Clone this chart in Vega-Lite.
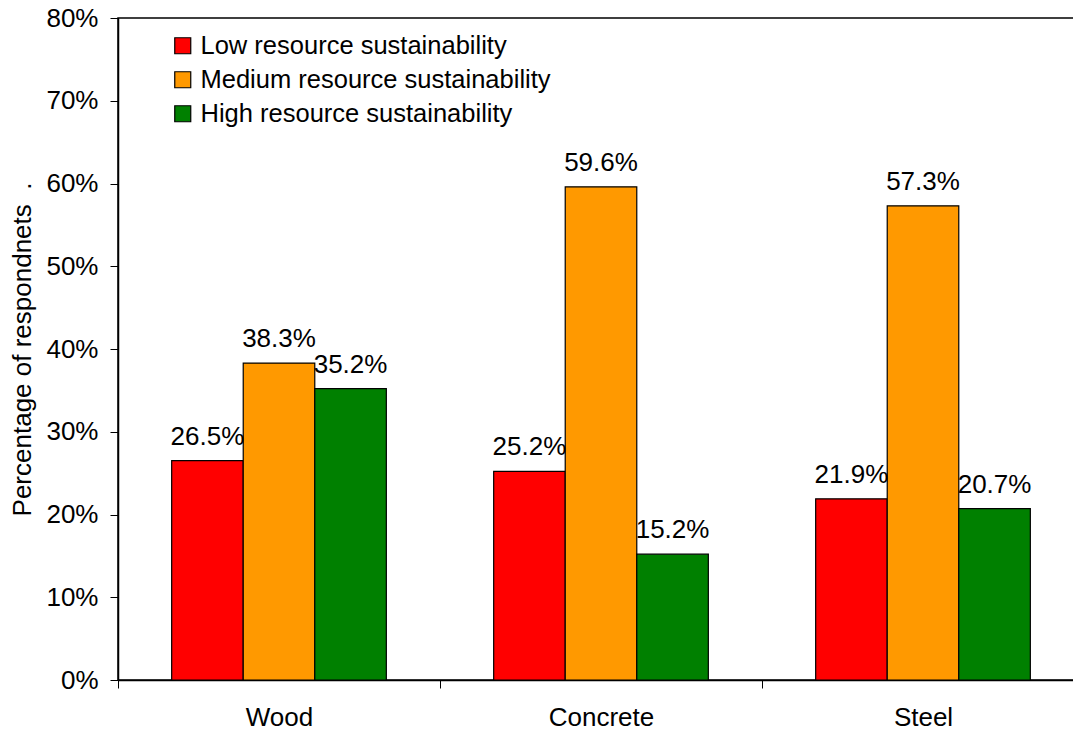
{
  "$schema": "https://vega.github.io/schema/vega-lite/v6.json",
  "autosize": "none",
  "padding": {"left": 118, "top": 18, "right": 0, "bottom": 52},
  "width": 966,
  "height": 662,
  "background": "white",
  "config": {
    "font": "Liberation Sans",
    "view": {"stroke": "#000", "strokeWidth": 1.5}
  },
  "data": {
    "values": [
      {"material": "Wood", "level": "Low resource sustainability", "value": 0.265},
      {"material": "Wood", "level": "Medium resource sustainability", "value": 0.383},
      {"material": "Wood", "level": "High resource sustainability", "value": 0.352},
      {"material": "Concrete", "level": "Low resource sustainability", "value": 0.252},
      {"material": "Concrete", "level": "Medium resource sustainability", "value": 0.596},
      {"material": "Concrete", "level": "High resource sustainability", "value": 0.152},
      {"material": "Steel", "level": "Low resource sustainability", "value": 0.219},
      {"material": "Steel", "level": "Medium resource sustainability", "value": 0.573},
      {"material": "Steel", "level": "High resource sustainability", "value": 0.207}
    ]
  },
  "encoding": {
    "x": {
      "field": "material", "type": "nominal", "sort": ["Wood", "Concrete", "Steel"],
      "scale": {"paddingInner": 0, "paddingOuter": 0},
      "axis": {
        "title": null, "labelAngle": 0, "tickBand": "extent", "tickSize": 8,
        "tickColor": "#000", "domainColor": "#000", "labelColor": "#000",
        "labelFontSize": 26, "labelPadding": 16, "domainWidth": 1.5
      }
    },
    "xOffset": {
      "field": "level", "type": "nominal",
      "sort": ["Low resource sustainability", "Medium resource sustainability", "High resource sustainability"],
      "scale": {"paddingInner": 0, "paddingOuter": 0.75}
    },
    "y": {
      "field": "value", "type": "quantitative",
      "scale": {"domain": [0, 0.8], "nice": false},
      "axis": {
        "title": "Percentage of respondnets\u00a0\u00a0.", "format": ".0%", "values": [0, 0.1, 0.2, 0.3, 0.4, 0.5, 0.6, 0.7, 0.8],
        "grid": false, "tickSize": 8, "tickColor": "#000", "domainColor": "#000", "domainWidth": 1.5,
        "labelColor": "#000", "labelFontSize": 26, "labelPadding": 12,
        "titleColor": "#000", "titleFontSize": 26, "titleFontWeight": "normal", "titlePadding": 10
      }
    }
  },
  "layer": [
    {
      "mark": {"type": "bar", "stroke": "#000", "strokeWidth": 1.2},
      "encoding": {
        "color": {
          "field": "level", "type": "nominal",
          "sort": ["Low resource sustainability", "Medium resource sustainability", "High resource sustainability"],
          "scale": {"domain": ["Low resource sustainability", "Medium resource sustainability", "High resource sustainability"], "range": ["#FF0000", "#FF9900", "#008000"]},
          "legend": {
            "title": null, "orient": "none", "legendX": 52, "legendY": 15,
            "symbolType": "square", "symbolSize": 256, "symbolStrokeColor": "#000", "symbolStrokeWidth": 1.2,
            "labelFontSize": 25.5, "labelColor": "#000", "labelOffset": 5, "rowPadding": 7, "labelLimit": 600
          }
        }
      }
    },
    {
      "mark": {"type": "text", "baseline": "alphabetic", "dy": -16, "fontSize": 26, "color": "#000"},
      "encoding": {
        "text": {"field": "value", "type": "quantitative", "format": ".1%"}
      }
    }
  ]
}
